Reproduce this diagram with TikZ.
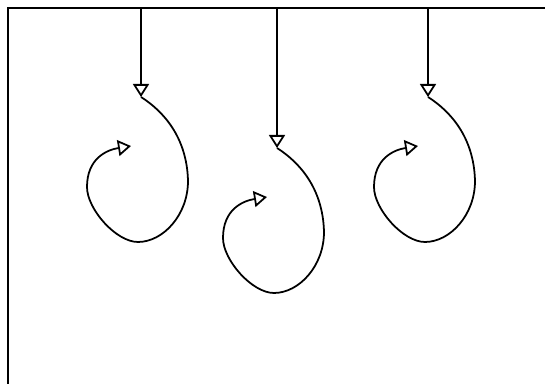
\documentclass[tikz,border=0pt]{standalone}
\usetikzlibrary{arrows.meta}
\begin{document}
\begin{tikzpicture}[
    x=0.02cm, y=-0.02cm,
    frame/.style={line width=1.1pt},
    flow/.style={line width=1pt, -{Triangle[open, length=2.6mm, width=3.2mm, line width=1pt]}}
]
    \useasboundingbox (0,0) rectangle (545,384);

    % Frame
    \draw[frame] (545,8) -- (8,8) -- (8,384);

    % Hooks
    \foreach \x/\y/\n in {141/97/a, 277/148/b, 428/97/c} {
        \coordinate (in\n) at (\x,8);
        \begin{scope}[shift={(\x,\y)}]
            \coordinate (bend\n) at (0,0);
            \coordinate (side\n) at (47,84);
            \coordinate (low\n) at (-3,145);
            \coordinate (left\n) at (-54,90);
            \coordinate (out\n) at (-10,49);
        \end{scope}
        \draw[flow] (in\n) -- (bend\n);
        \draw[flow] (bend\n) .. controls +(22,14) and +(-1,-44) .. (side\n)
            .. controls +(0,34) and +(25,0) .. (low\n)
            .. controls +(-22,0) and +(0,22) .. (left\n)
            .. controls +(0,-28) and +(-25,4) .. (out\n);
    }
\end{tikzpicture}
\end{document}
